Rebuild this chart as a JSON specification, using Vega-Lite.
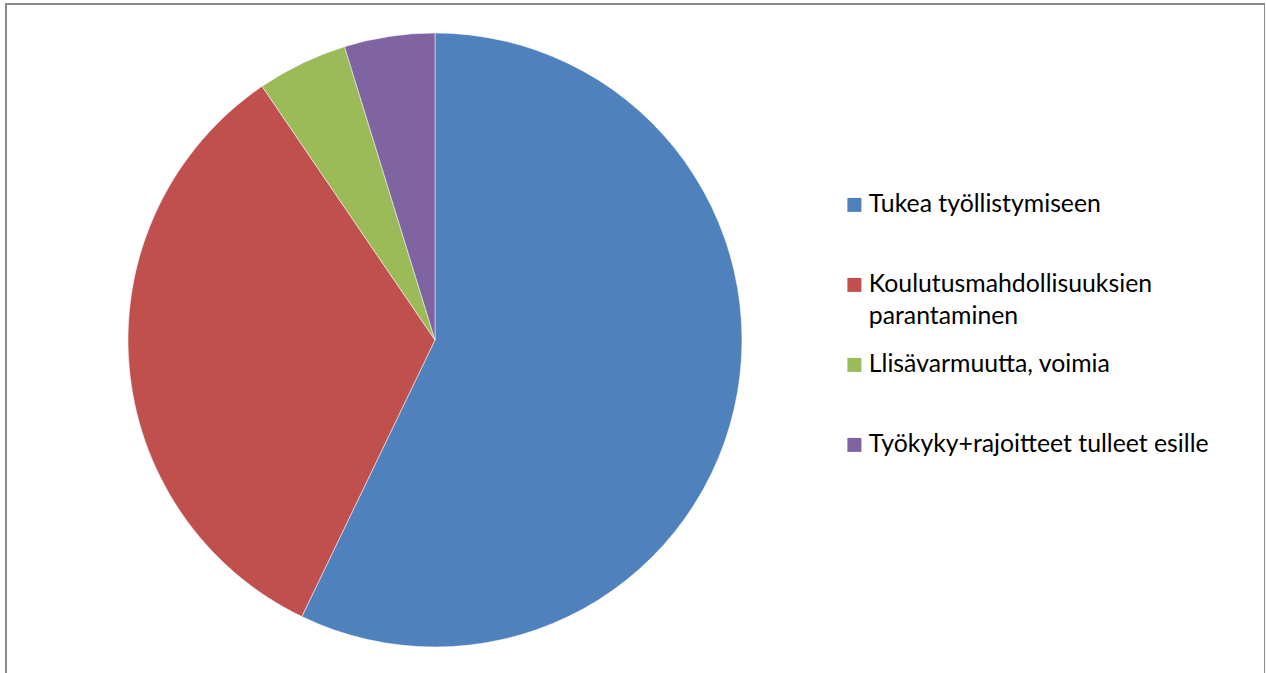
{
  "$schema": "https://vega.github.io/schema/vega-lite/v6.json",
  "width": 1259,
  "height": 680,
  "autosize": {"type": "none"},
  "padding": {"left": 6, "top": 4, "right": 0, "bottom": 0},
  "background": "white",
  "view": {"stroke": "#8c8c8c", "strokeWidth": 2},
  "config": {"view": {"stroke": "#8c8c8c", "strokeWidth": 2}, "style": {"guide-label": {"lineHeight": 32}}},
  "data": {"values": [
    {"rank": 1, "category": "Tukea työllistymiseen", "value": 12},
    {"rank": 2, "category": "Koulutusmahdollisuuksien parantaminen", "value": 7},
    {"rank": 3, "category": "Llisävarmuutta, voimia", "value": 1},
    {"rank": 4, "category": "Työkyky+rajoitteet tulleet esille", "value": 1}
  ]},
  "mark": {"type": "arc", "x": 429, "y": 336, "outerRadius": 307, "stroke": "white", "strokeWidth": 0.5},
  "encoding": {
    "theta": {"field": "value", "type": "quantitative", "stack": true},
    "order": {"field": "rank", "type": "quantitative", "sort": "ascending"},
    "color": {
      "field": "category",
      "type": "nominal",
      "sort": ["Tukea työllistymiseen", "Koulutusmahdollisuuksien parantaminen", "Llisävarmuutta, voimia", "Työkyky+rajoitteet tulleet esille"],
      "scale": {
        "domain": ["Tukea työllistymiseen", "Koulutusmahdollisuuksien parantaminen", "Llisävarmuutta, voimia", "Työkyky+rajoitteet tulleet esille"],
        "range": ["#4F81BD", "#C0504D", "#9BBB59", "#8064A2"]
      },
      "legend": {
        "orient": "none",
        "legendX": 836,
        "legendY": 188.5,
        "title": null,
        "padding": 0,
        "symbolType": "square",
        "symbolSize": 196,
        "symbolStrokeWidth": 0,
        "symbolOpacity": 1,
        "labelFont": "Lato",
        "labelFontSize": 24.8,
        "labelColor": "#000000",
        "labelOffset": 2,
        "labelLimit": 500,
        "rowPadding": 22,
        "labelExpr": "datum.label == 'Koulutusmahdollisuuksien parantaminen' ? ['Koulutusmahdollisuuksien', 'parantaminen'] : [datum.label, ' ']"
      }
    }
  }
}
